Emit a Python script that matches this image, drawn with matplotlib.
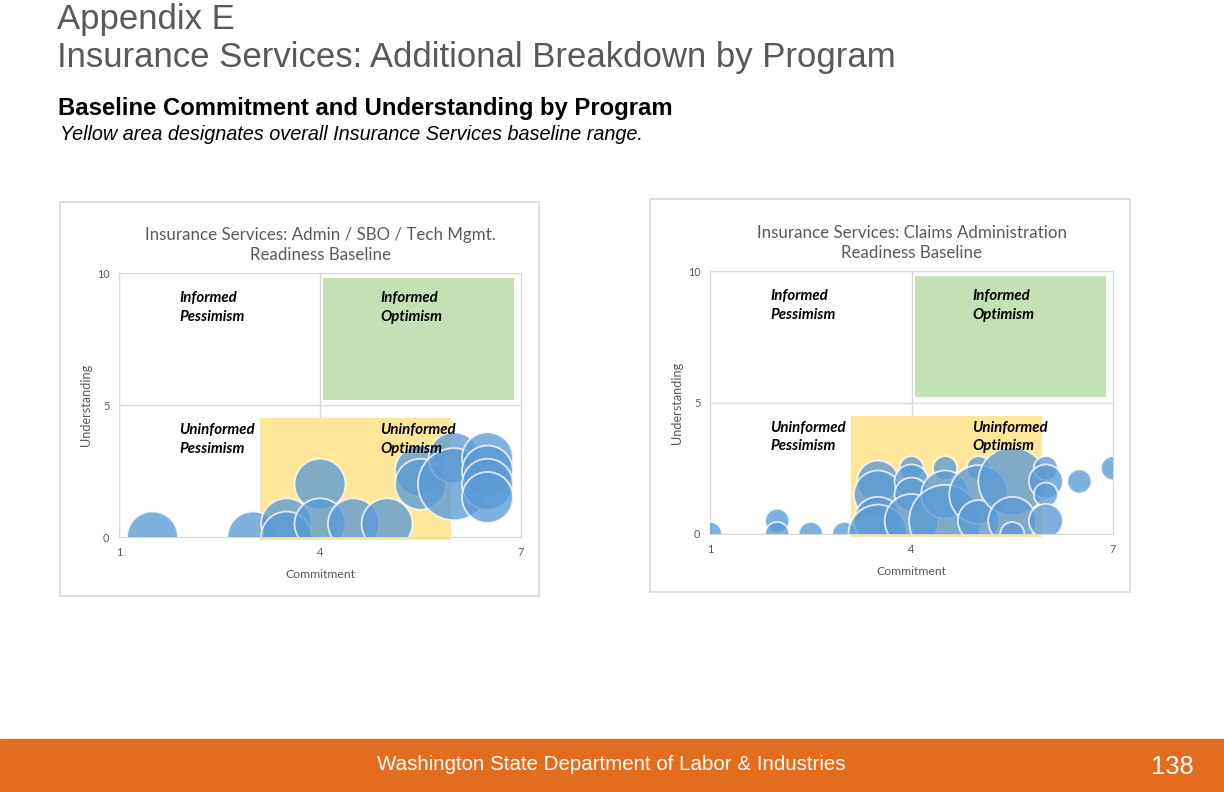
import matplotlib
matplotlib.use("Agg")
import matplotlib.pyplot as plt
from matplotlib.patches import Rectangle

# slide text
page_title = ["Appendix E", "Insurance Services: Additional Breakdown by Program"]
sub_title = "Baseline Commitment and Understanding by Program"
sub_note = "Yellow area designates overall Insurance Services baseline range."
footer_text = "Washington State Department of Labor & Industries"
page_no = "138"

# chart data (commitment, understanding, bubble size = number of responses)
left_title = "Insurance Services: Admin / SBO / Tech Mgmt.\nReadiness Baseline"
left_x = [1.5, 3.0, 3.5, 3.5, 4.0, 4.0, 4.5, 5.0, 5.5, 5.5, 6.0, 6.0, 6.5, 6.5, 6.5, 6.5]
left_y = [0.0, 0.0, 0.5, 0.0, 2.0, 0.5, 0.5, 0.5, 2.5, 2.0, 3.0, 2.0, 3.0, 2.5, 2.0, 1.5]
left_n = [1, 1, 1, 1, 1, 1, 1, 1, 1, 1, 1, 2, 1, 1, 1, 1]

right_title = "Insurance Services: Claims Administration\nReadiness Baseline"
right_x = [1.0, 2.0, 2.0, 2.5, 3.0, 3.5, 3.5, 3.5, 3.5, 4.0, 4.0, 4.0, 4.0, 4.5,
           4.5, 4.5, 5.0, 5.0, 5.0, 5.5, 5.5, 5.5, 6.0, 6.0, 6.0, 6.0, 6.5, 7.0]
right_y = [0.0, 0.5, 0.0, 0.0, 0.0, 2.0, 1.5, 0.5, 0.0, 2.5, 2.0, 1.5, 0.5, 2.5,
           1.5, 0.5, 2.5, 1.5, 0.5, 2.0, 0.5, 0.0, 2.5, 2.0, 1.5, 0.5, 2.0, 2.5]
right_n = [1, 1, 1, 1, 1, 3, 4, 4, 6, 1, 2, 2, 5, 1,
           4, 9, 1, 6, 3, 8, 4, 1, 1, 2, 1, 2, 1, 1]

# shaded regions: [x0, x1, y0, y1]
baseline_range = [3.1, 5.95, -0.1, 4.5]
optimism_zone = [4.05, 6.9, 5.2, 9.8]

quadrants = [("Informed\nPessimism", 1.9, 9.3), ("Informed\nOptimism", 4.9, 9.3),
             ("Uninformed\nPessimism", 1.9, 4.3), ("Uninformed\nOptimism", 4.9, 4.3)]
x_ticks = [1, 4, 7]
y_ticks = [0, 5, 10]

W, H = 1224, 792
fig = plt.figure(figsize=(W / 100, H / 100), dpi=100)
SANS = ["Liberation Sans", "DejaVu Sans"]
CHART = ["Lato", "DejaVu Sans"]
GREY = "#595959"
S_MAX = 2690  # marker area (pt^2) of the largest bubble in each chart


def fx(px):
    return px / W


def fy(py):
    return 1 - py / H


fig.text(fx(57), fy(19), page_title[0], family=SANS, fontsize=25, color=GREY, va="center")
fig.text(fx(57), fy(58), page_title[1], family=SANS, fontsize=25, color=GREY, va="center")
fig.text(fx(58), fy(109), sub_title, family=SANS, fontsize=17.2, weight="bold", color="black", va="center")
fig.text(fx(60), fy(135), sub_note, family=SANS, fontsize=14.3, style="italic", color="black", va="center")

# footer band
fig.add_artist(Rectangle((0, 0), 1, fy(739), transform=fig.transFigure, color="#E46C1E", zorder=0))
fig.text(fx(611), fy(765), footer_text, family=SANS, fontsize=14.8, color="white", ha="center", va="center")
fig.text(fx(1172), fy(767), page_no, family=SANS, fontsize=18.4, color="white", ha="center", va="center")


def bubble_chart(panel, plot, title, xs, ys, ns):
    px0, py0, px1, py1 = panel
    fig.add_artist(Rectangle((fx(px0), fy(py1)), fx(px1 - px0), (py1 - py0) / H,
                             transform=fig.transFigure, facecolor="white",
                             edgecolor="#D9D9D9", lw=1.2, zorder=0))
    ax0, ay0, ax1, ay1 = plot
    ax = fig.add_axes([fx(ax0), fy(ay1), fx(ax1 - ax0), (ay1 - ay0) / H])
    ax.set_xlim(1, 7)
    ax.set_ylim(0, 10)
    ax.set_xticks(x_ticks)
    ax.set_yticks(y_ticks)
    ax.grid(True, color="#D9D9D9", lw=1)
    ax.set_axisbelow(True)
    for s in ax.spines.values():
        s.set_color("#D9D9D9")
    ax.tick_params(length=0, labelsize=7.8, labelcolor=GREY, pad=7)
    for lab in ax.get_xticklabels() + ax.get_yticklabels():
        lab.set_family(CHART)

    for (x0, x1, y0, y1), col in [(baseline_range, "#FFE699"), (optimism_zone, "#C5E0B4")]:
        ax.add_patch(Rectangle((x0, y0), x1 - x0, y1 - y0, facecolor=col,
                               edgecolor="none", clip_on=False, zorder=1))

    top = max(ns)
    ax.scatter(xs, ys, s=[n / top * S_MAX for n in ns], color="#5B9BD5", alpha=0.78,
               edgecolors="white", linewidths=1.3, zorder=3)

    for txt, x, y in quadrants:
        ax.text(x, y, txt, family=CHART, fontsize=10.8, weight="bold", style="italic",
                color="black", va="top", linespacing=1.4, zorder=5)

    ax.set_xlabel("Commitment", family=CHART, fontsize=8.8, color=GREY, labelpad=8)
    ax.set_ylabel("Understanding", family=CHART, fontsize=9.2, color=GREY, labelpad=3)
    ax.set_title(title, family=CHART, fontsize=12.2, color=GREY, pad=9, linespacing=1.35)
    return ax


bubble_chart((60, 202, 539, 596), (119, 273, 521, 537), left_title, left_x, left_y, left_n)
bubble_chart((650, 199, 1130, 592), (710, 271, 1113, 534), right_title, right_x, right_y, right_n)

fig.savefig("out.png", dpi=100)
